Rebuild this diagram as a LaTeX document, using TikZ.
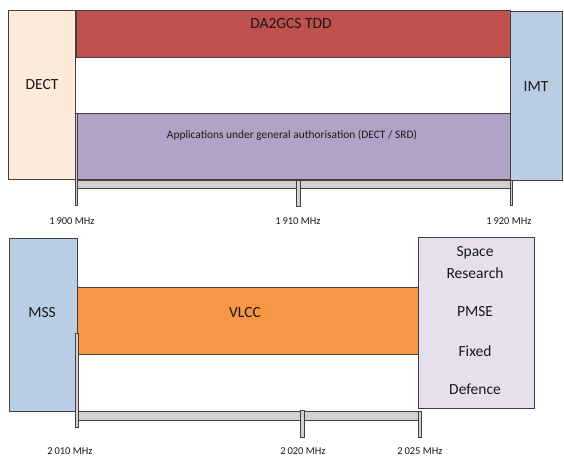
\documentclass[tikz,border=0pt]{standalone}
\usepackage{fontspec}
\setmainfont{Carlito}
\definecolor{dectpeach}{HTML}{FDEADA}
\definecolor{tddred}{HTML}{C0504D}
\definecolor{srdpurple}{HTML}{B3A2C7}
\definecolor{imtblue}{HTML}{B9CDE5}
\definecolor{vlccorange}{HTML}{F79646}
\definecolor{srlavender}{HTML}{E6E0EC}
\definecolor{axisgray}{HTML}{D0D0D0}
\tikzset{
  band/.style={draw=black!75, line width=0.8pt},
  tickbar/.style={draw=black!75, line width=0.6pt, fill=axisgray},
  bandlbl/.style={text=black!90, font=\fontsize{15.5}{18}\selectfont},
  freqlbl/.style={text=black!90, font=\fontsize{10.5}{12}\selectfont}
}
\begin{document}
\begin{tikzpicture}[x=1pt,y=-1pt]
\useasboundingbox (0,0) rectangle (564,459);

% 1900 - 1920 MHz
\draw[band, fill=dectpeach] (8,10) rectangle (75,179);
\draw[band, fill=tddred] (76,10) rectangle (510,57);
\draw[band, fill=srdpurple] (76,113) rectangle (510,179);
\draw[band, fill=imtblue] (510,11) rectangle (562,180);
\draw[tickbar] (76,180) rectangle (510,188);
\draw[tickbar] (75,113) rectangle (77.5,205);
\draw[tickbar] (296.5,180) rectangle (300.5,206);
\draw[tickbar] (510,180) rectangle (512.5,205);

\node[bandlbl] (dect) at (42,85) {DECT};
\node[bandlbl] (tdd) at (291,24) {DA2GCS TDD};
\node[bandlbl] (imt) at (536,87) {IMT};
\node[text=black!90, font=\fontsize{11.4}{13}\selectfont] (srd) at (292,135) {Applications under general authorisation (DECT / SRD)};

\node[freqlbl] (f1900) at (72,221) {1\,900 MHz};
\node[freqlbl] (f1910) at (298,221) {1\,910 MHz};
\node[freqlbl] (f1920) at (509,221) {1\,920 MHz};

% 2010 - 2025 MHz
\draw[band, fill=imtblue] (9,238) rectangle (77,411);
\draw[band, fill=vlccorange] (77,287) rectangle (418,354);
\draw[band, fill=srlavender] (418,237) rectangle (534,408);
\draw[tickbar] (78,411.5) rectangle (420,420);
\draw[tickbar] (75.5,333) rectangle (78,427);
\draw[tickbar] (300.5,410) rectangle (304.5,437);
\draw[tickbar] (418.5,411.5) rectangle (421,437);

\node[bandlbl] (mss) at (42,313) {MSS};
\node[bandlbl] (vlcc) at (245,313) {VLCC};
\node[bandlbl] (space) at (475,253) {Space};
\node[bandlbl] (research) at (475,273) {Research};
\node[bandlbl] (pmse) at (475,312) {PMSE};
\node[bandlbl] (fixed) at (475,351) {Fixed};
\node[bandlbl] (defence) at (475,389) {Defence};

\node[freqlbl] (f2010) at (70,451) {2\,010 MHz};
\node[freqlbl] (f2020) at (303,451) {2\,020 MHz};
\node[freqlbl] (f2025) at (420,451) {2\,025 MHz};

\end{tikzpicture}
\end{document}
